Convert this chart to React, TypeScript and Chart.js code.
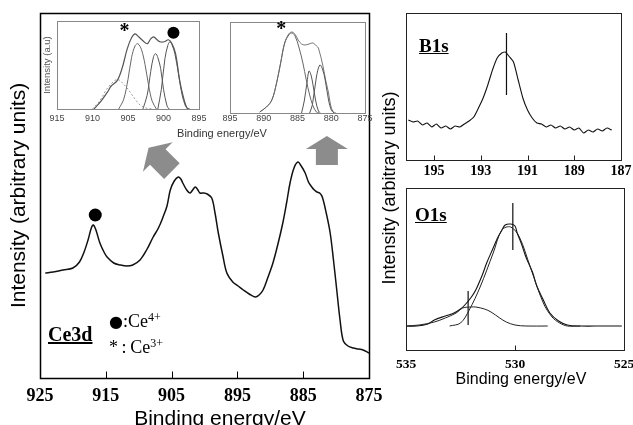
import React, { useEffect, useRef } from 'react';
import { Chart, registerables } from 'chart.js';
Chart.register(...registerables);

const SERIF = "'Liberation Serif', 'Times New Roman', serif";
const SANS = "'Liberation Sans', Arial, sans-serif";

// ---------- Ce3d main spectrum ----------
const CE3D_TICKS = [925, 915, 905, 895, 885, 875];
const CE3D_EV = [924.2, 923.0, 921.5, 920.0, 919.0, 918.3, 917.7, 917.2, 916.9, 916.5, 915.9, 915.2, 914.8, 913.8, 912.8, 911.8, 910.9, 909.8, 908.8, 907.8, 907.0, 906.3, 905.7, 905.2, 904.6, 904.0, 903.6, 903.3, 902.7, 902.2, 901.8, 901.4, 901.0, 900.7, 900.1, 899.6, 898.9, 898.4, 897.9, 897.2, 896.6, 895.7, 894.9, 894.1, 893.2, 892.3, 891.7, 891.1, 890.4, 889.6, 888.8, 888.1, 887.5, 887.0, 886.4, 885.8, 885.3, 884.7, 884.2, 883.7, 883.3, 882.9, 882.5, 882.1, 881.5, 880.9, 880.4, 879.9, 879.4, 878.9, 878.2, 877.4, 876.6, 875.9, 875.0];
const CE3D_I = [105, 106, 108, 110, 116, 126, 138, 150, 153, 148, 135, 125, 121, 115, 113, 112, 113, 118, 128, 141, 150, 161, 172, 188, 197, 201, 199, 195, 188, 185, 188, 191, 188, 185, 185, 184, 180, 165, 145, 122, 105, 96, 92, 88, 84, 81, 83, 88, 100, 115, 135, 155, 176, 195, 210, 216, 212, 205, 196, 191, 188, 186, 185, 181, 165, 145, 118, 88, 58, 37, 32, 30, 29, 28, 25];
const CE4_MARK_EV = [916.6];
const CE4_MARK_I = [163];

// ---------- inset 1 (915-895) ----------
const IN1_TICKS = [915, 910, 905, 900, 895];
const IN1_ENV_EV = [909.8, 908.8, 907.9, 907.4, 906.5, 905.8, 905.1, 904.5, 904.0, 903.5, 902.9, 902.3, 901.8, 901.4, 900.9, 900.5, 899.9, 899.3, 898.8, 898.3, 897.7, 897.2, 896.7, 896.3];
const IN1_ENV_I = [0, 8, 17, 23, 29, 42, 61, 72, 76, 73, 69, 66, 71, 73, 70, 68, 68, 70, 66, 56, 28, 12, 1, 0];
const IN1_A_EV = [910.0, 909.0, 908.0, 907.0, 906.5, 906.0, 905.0, 904.0, 903.3, 902.5, 901.5];
const IN1_A_I = [0, 8, 20, 28, 30, 28, 20, 10, 4, 1, 0];
const IN1_B_EV = [906.3, 905.6, 905.0, 904.5, 904.0, 903.6, 903.1, 902.6, 902.1, 901.6, 901.0];
const IN1_B_I = [0, 10, 30, 52, 64, 66, 60, 45, 24, 8, 0];
const IN1_C_EV = [902.9, 902.3, 901.8, 901.4, 901.1, 900.8, 900.4, 900.0, 899.5, 899.2];
const IN1_C_I = [0, 14, 38, 53, 56, 52, 41, 20, 3, 0];
const IN1_D_EV = [900.8, 900.3, 899.8, 899.4, 899.1, 898.8, 898.4, 897.9, 897.4, 896.9, 896.5];
const IN1_D_I = [0, 20, 51, 64, 68, 65, 56, 36, 15, 3, 0];
const IN1_STAR = [{ x: 905.5, y: 78 }];
const IN1_DOT_EV = [898.6];
const IN1_DOT_I = [77];

// ---------- inset 2 (895-875) ----------
const IN2_TICKS = [895, 890, 885, 880, 875];
const IN2_ENV_EV = [890.6, 889.6, 888.8, 888.1, 887.5, 886.9, 886.3, 885.8, 885.3, 884.9, 884.4, 883.9, 883.3, 882.7, 882.2, 881.9, 881.2, 880.8, 880.4, 880.1, 879.7, 879.3];
const IN2_ENV_I = [1, 6, 13, 30, 50, 70, 79, 81, 78, 73, 69, 68, 69, 70, 67, 65, 46, 32, 20, 8, 1, 0];
const IN2_A_EV = [890.6, 889.6, 888.8, 888.1, 887.5, 886.9, 886.3, 885.8, 885.3, 884.8, 884.2, 883.7, 883.2, 882.7, 882.2, 881.8];
const IN2_A_I = [1, 6, 13, 30, 50, 70, 78, 80, 76, 66, 50, 33, 18, 7, 1, 0];
const IN2_B_EV = [884.4, 884.0, 883.6, 883.3, 883.0, 882.7, 882.3, 881.9, 881.6];
const IN2_B_I = [0, 12, 30, 42, 38, 28, 12, 2, 0];
const IN2_C_EV = [883.2, 882.8, 882.2, 881.7, 881.3, 880.9, 880.4, 880.0, 879.6];
const IN2_C_I = [0, 8, 36, 48, 44, 33, 13, 3, 0];
const IN2_STAR = [{ x: 887.4, y: 83 }];

// ---------- B1s ----------
const B1S_TICKS = [195, 193, 191, 189, 187];
const B1S_EV = [196.1, 195.9, 195.7, 195.5, 195.3, 195.1, 194.9, 194.7, 194.5, 194.3, 194.1, 193.9, 193.7, 193.5, 193.3, 193.1, 192.9, 192.7, 192.5, 192.3, 192.1, 191.95, 191.8, 191.6, 191.4, 191.2, 191.0, 190.8, 190.6, 190.4, 190.2, 190.0, 189.8, 189.6, 189.4, 189.2, 189.0, 188.8, 188.6, 188.4, 188.2, 188.0, 187.8, 187.6, 187.4];
const B1S_I = [40, 38, 39, 35, 37, 33, 36, 32, 34, 31, 34, 33, 36, 39, 43, 52, 62, 75, 90, 102, 107, 108, 104, 98, 80, 62, 50, 42, 37, 36, 33, 35, 32, 34, 31, 33, 30, 32, 27, 30, 28, 31, 29, 32, 30];
const B1S_LINE_EV = [191.9, 191.9];
const B1S_LINE_I = [127, 65];

// ---------- O1s ----------
const O1S_TICKS = [535, 530, 525];
const O1S_EV = [535.0, 534.5, 534.0, 533.7, 533.2, 532.8, 532.5, 532.3, 532.0, 531.8, 531.5, 531.3, 531.0, 530.8, 530.6, 530.45, 530.2, 530.0, 529.9, 529.7, 529.5, 529.2, 529.0, 528.7, 528.4, 528.0, 527.6, 527.0, 526.0, 525.1];
const O1S_I = [24, 24, 26, 30, 34, 37, 41, 45, 53, 60, 75, 87, 102, 112, 120, 125, 126, 124, 117, 106, 93, 78, 64, 50, 37, 29, 25, 24, 24, 24];
const O1S_MAIN_EV = [533.0, 532.5, 532.1, 531.6, 531.0, 530.6, 530.2, 529.8, 529.3, 528.7, 528.3, 527.95, 527.6, 527.0];
const O1S_MAIN_I = [24, 27, 40, 63, 97, 120, 123, 113, 83, 47, 33, 27, 24, 24];
const O1S_SUB_EV = [535.0, 534.4, 533.7, 533.2, 532.7, 532.4, 532.0, 531.8, 531.4, 531.1, 530.7, 530.4, 530.0, 529.5, 528.5];
const O1S_SUB_I = [24, 25, 28, 32, 37, 42, 43, 43, 41, 38, 32, 28, 25, 24, 24];
const O1S_LINE1_EV = [530.1, 530.1];
const O1S_LINE1_I = [147, 100];
const O1S_LINE2_EV = [532.15, 532.15];
const O1S_LINE2_I = [59, 25];

const pts = (xs: number[], ys: number[]) => xs.map((x, i) => ({ x, y: ys[i] }));

const line = (xs: number[], ys: number[], color: string, width: number, dash: number[] = [], tension = 0.35) => ({
  type: 'line',
  data: pts(xs, ys),
  borderColor: color,
  borderWidth: width,
  borderDash: dash,
  pointRadius: 0,
  fill: false,
  tension,
});

const dots = (xs: number[], ys: number[], r: number) => ({
  type: 'line',
  data: pts(xs, ys),
  showLine: false,
  pointRadius: r,
  pointBackgroundColor: '#000',
  pointBorderWidth: 0,
  borderColor: '#000',
});

function xAxis(min: number, max: number, ticks: number[], font: any, pad: number, color: string, xh: number) {
  return {
    type: 'linear',
    reverse: true,
    min,
    max,
    grid: { display: false, drawTicks: false },
    border: { display: false },
    ticks: { font, color, padding: pad, autoSkip: false, maxRotation: 0, minRotation: 0, callback: (v: any) => String(v) },
    afterBuildTicks: (s: any) => {
      s.ticks = ticks.map((v) => ({ value: v }));
    },
    afterFit: (s: any) => {
      s.height = xh;
    },
  };
}

function yAxis(max: number, yw: number, title: any = null) {
  return {
    type: 'linear',
    min: 0,
    max,
    grid: { display: false, drawTicks: false },
    border: { display: false },
    ticks: { display: false },
    title: title || { display: false },
    afterFit: (s: any) => {
      s.width = yw;
    },
  };
}

function framePlugin(color: string, width: number, tickVals: number[], tickLen: number) {
  return {
    id: 'frame',
    afterDatasetsDraw(chart: any) {
      const { ctx, chartArea: a, scales } = chart;
      ctx.save();
      ctx.strokeStyle = color;
      ctx.lineWidth = width;
      const l = Math.round(a.left) + 0.5, t = Math.round(a.top) + 0.5;
      const r = Math.round(a.right) + 0.5, b = Math.round(a.bottom) + 0.5;
      ctx.strokeRect(l, t, r - l, b - t);
      ctx.lineWidth = 1;
      for (const v of tickVals) {
        const px = Math.round(scales.x.getPixelForValue(v)) + 0.5;
        ctx.beginPath();
        ctx.moveTo(px, b);
        ctx.lineTo(px, b - tickLen);
        ctx.stroke();
      }
      ctx.restore();
    },
  };
}

type Mark = { x: number; y: number; text?: string; font?: string; arrow?: number[] };

function marksPlugin(items: Mark[]) {
  return {
    id: 'marks',
    afterDatasetsDraw(chart: any) {
      const { ctx, scales } = chart;
      ctx.save();
      for (const m of items) {
        const px = scales.x.getPixelForValue(m.x);
        const py = scales.y.getPixelForValue(m.y);
        if (m.text) {
          ctx.font = m.font || `18px ${SERIF}`;
          ctx.fillStyle = '#000';
          ctx.textAlign = 'center';
          ctx.textBaseline = 'middle';
          ctx.fillText(m.text, px, py);
        }
        if (m.arrow) {
          const [ang, hw, hh, bw, bl] = m.arrow;
          ctx.save();
          ctx.translate(px, py);
          ctx.rotate(ang);
          ctx.fillStyle = '#8c8c8c';
          ctx.beginPath();
          ctx.moveTo(0, -hh);
          ctx.lineTo(hw, 0);
          ctx.lineTo(bw, 0);
          ctx.lineTo(bw, bl);
          ctx.lineTo(-bw, bl);
          ctx.lineTo(-bw, 0);
          ctx.lineTo(-hw, 0);
          ctx.closePath();
          ctx.fill();
          ctx.restore();
        }
      }
      ctx.restore();
    },
  };
}

const ARROWS: Mark[] = [
  { x: 907.1, y: 221, arrow: [-Math.PI / 4, 21, 13, 11, 20] },
  { x: 881.4, y: 229, arrow: [0, 21, 13, 11, 16] },
];

function baseOptions(padding: any, scales: any) {
  return {
    animation: false,
    responsive: false,
    events: [],
    layout: { padding },
    plugins: { legend: { display: false }, tooltip: { enabled: false } },
    scales,
  };
}

function Panel({ left, top, w, h, make }: { left: number; top: number; w: number; h: number; make: () => any }) {
  const ref = useRef<HTMLCanvasElement>(null);
  useEffect(() => {
    const c = new Chart(ref.current as HTMLCanvasElement, make());
    return () => c.destroy();
  }, []);
  return <canvas ref={ref} width={w} height={h} style={{ position: 'absolute', left, top, width: w, height: h }} />;
}

const makeMain = () => ({
  type: 'line',
  data: {
    datasets: [line(CE3D_EV, CE3D_I, '#111', 1.5), dots(CE4_MARK_EV, CE4_MARK_I, 6.5)],
  },
  options: baseOptions(
    { left: 0, top: 13, right: 26, bottom: 22 },
    {
      x: xAxis(875, 925, CE3D_TICKS, { family: SERIF, size: 18, weight: 'bold' }, 8, '#000', 40),
      y: yAxis(365, 40, {
        display: true,
        text: 'Intensity (arbitrary units)',
        font: { family: SANS, size: 21 },
        color: '#000',
        padding: { top: 7, bottom: 0 },
      }),
    }
  ),
  plugins: [framePlugin('#000', 1.5, [915, 905, 895, 885], 7), marksPlugin(ARROWS)],
});

const makeInset1 = () => ({
  type: 'line',
  data: {
    datasets: [
      line(IN1_A_EV, IN1_A_I, '#999', 1, [2, 2]),
      line(IN1_B_EV, IN1_B_I, '#666', 1),
      line(IN1_C_EV, IN1_C_I, '#555', 1),
      line(IN1_D_EV, IN1_D_I, '#555', 1),
      line(IN1_ENV_EV, IN1_ENV_I, '#555', 1.2),
      dots(IN1_DOT_EV, IN1_DOT_I, 6),
    ],
  },
  options: baseOptions(
    { left: 0, top: 21, right: 16, bottom: 21 },
    {
      x: xAxis(895, 915, IN1_TICKS, { family: SANS, size: 9 }, 4, '#444', 20),
      y: yAxis(89, 27, {
        display: true,
        text: 'Intensity (a.u)',
        font: { family: SANS, size: 9.5 },
        color: '#555',
        padding: { top: 12, bottom: 0 },
      }),
    }
  ),
  plugins: [framePlugin('#888', 1, [], 0), marksPlugin(IN1_STAR.map((s) => ({ ...s, text: '*', font: `bold 20px ${SERIF}` })))],
});

const makeInset2 = () => ({
  type: 'line',
  data: {
    datasets: [
      line(IN2_A_EV, IN2_A_I, '#666', 1),
      line(IN2_B_EV, IN2_B_I, '#555', 1),
      line(IN2_C_EV, IN2_C_I, '#555', 1),
      line(IN2_ENV_EV, IN2_ENV_I, '#777', 1),
    ],
  },
  options: baseOptions(
    { left: 0, top: 22, right: 10, bottom: 17 },
    {
      x: xAxis(875, 895, IN2_TICKS, { family: SANS, size: 9 }, 0, '#444', 20),
      y: yAxis(91, 15),
    }
  ),
  plugins: [framePlugin('#888', 1, [], 0), marksPlugin(IN2_STAR.map((s) => ({ ...s, text: '*', font: `bold 20px ${SERIF}` })))],
});

const makeB1s = () => ({
  type: 'line',
  data: {
    datasets: [line(B1S_EV, B1S_I, '#111', 1.1, [], 0.2), line(B1S_LINE_EV, B1S_LINE_I, '#111', 1.2, [], 0)],
  },
  options: baseOptions(
    { left: 0, top: 13, right: 24, bottom: 0 },
    {
      x: xAxis(187, 196.2, B1S_TICKS, { family: SERIF, size: 14, weight: 'bold' }, 3, '#000', 25),
      y: yAxis(147, 26),
    }
  ),
  plugins: [framePlugin('#222', 1, [195, 193, 191, 189], 5)],
});

const makeO1s = () => ({
  type: 'line',
  data: {
    datasets: [
      line(O1S_SUB_EV, O1S_SUB_I, '#222', 1),
      line(O1S_MAIN_EV, O1S_MAIN_I, '#222', 1),
      line(O1S_EV, O1S_I, '#111', 1.1),
      line(O1S_LINE1_EV, O1S_LINE1_I, '#111', 1.2, [], 0),
      line(O1S_LINE2_EV, O1S_LINE2_I, '#111', 1.2, [], 0),
    ],
  },
  options: baseOptions(
    { left: 0, top: 13, right: 21, bottom: 0 },
    {
      x: xAxis(525, 535, O1S_TICKS, { family: SERIF, size: 13.5, weight: 'bold' }, 6, '#000', 75),
      y: yAxis(162, 26),
    }
  ),
  plugins: [framePlugin('#222', 1, [530], 5)],
});

const abs = (s: any): any => ({ position: 'absolute', whiteSpace: 'nowrap', ...s });

export default function App() {
  return (
    <div style={{ position: 'fixed', left: 0, top: 0, width: 633, height: 425, overflow: 'hidden', background: '#fff' }}>
      <Panel left={0} top={0} w={395} h={440} make={makeMain} />
      <Panel left={30} top={0} w={185} h={150} make={makeInset1} />
      <Panel left={215} top={0} w={160} h={150} make={makeInset2} />
      <Panel left={380} top={0} w={265} h={185} make={makeB1s} />
      <Panel left={380} top={175} w={265} h={250} make={makeO1s} />

      <div style={abs({ left: 0, width: 440, top: 405, textAlign: 'center', font: `21px ${SANS}`, lineHeight: '26px', color: '#000' })}>
        Binding energy/eV
      </div>
      <div style={abs({ left: 122, width: 200, top: 126, textAlign: 'center', font: `11px ${SANS}`, lineHeight: '14px', color: '#333' })}>
        Binding energy/eV
      </div>
      <div
        style={abs({
          left: 259,
          top: 177,
          width: 260,
          height: 22,
          textAlign: 'center',
          font: `18px ${SANS}`,
          lineHeight: '22px',
          color: '#000',
          transform: 'rotate(-90deg)',
          transformOrigin: '130px 11px',
        })}
      >
        Intensity (arbitrary units)
      </div>
      <div style={abs({ left: 421, width: 200, top: 370, textAlign: 'center', font: `16px ${SANS}`, lineHeight: '18px', color: '#000' })}>
        Binding energy/eV
      </div>
      <div style={abs({ left: 419, top: 35, font: `bold 19px ${SERIF}`, lineHeight: '22px', textDecoration: 'underline', color: '#000' })}>B1s</div>
      <div style={abs({ left: 415, top: 204, font: `bold 19px ${SERIF}`, lineHeight: '22px', textDecoration: 'underline', color: '#000' })}>O1s</div>
      <div style={abs({ left: 48, top: 322, font: `bold 20px ${SERIF}`, lineHeight: '24px', textDecoration: 'underline', color: '#000' })}>Ce3d</div>
      <div style={abs({ left: 109, top: 311, font: `18px ${SERIF}`, lineHeight: '20px', color: '#000' })}>
        <span style={{ fontSize: 16, fontFamily: "'DejaVu Sans', sans-serif", verticalAlign: '0px' }}>●</span>:Ce<sup style={{ fontSize: 12, verticalAlign: '6px', lineHeight: 0 }}>4+</sup>
      </div>
      <div style={abs({ left: 109, top: 337, font: `18px ${SERIF}`, lineHeight: '20px', color: '#000' })}>
        *&#8201;:&#8201;Ce<sup style={{ fontSize: 12, verticalAlign: '6px', lineHeight: 0 }}>3+</sup>
      </div>
    </div>
  );
}
